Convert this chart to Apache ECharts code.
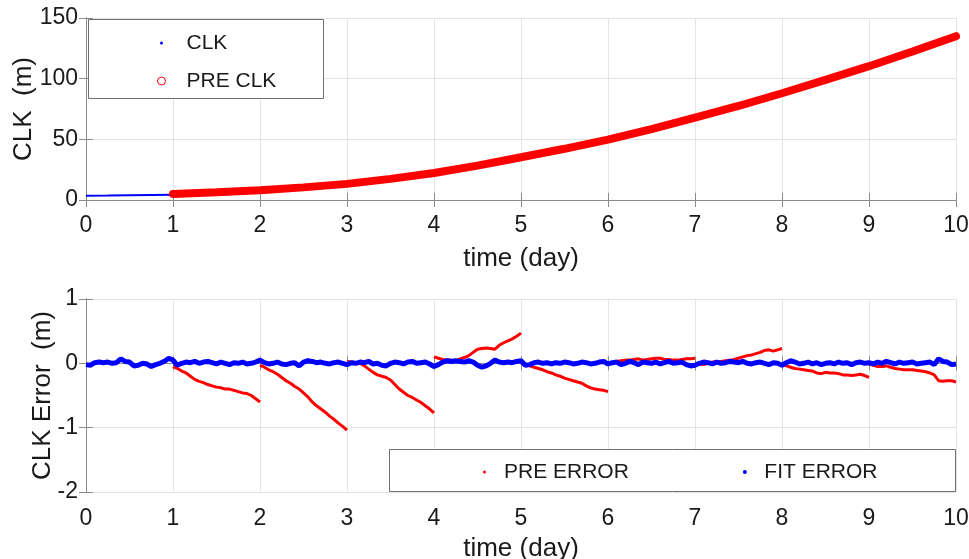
<!DOCTYPE html>
<html>
<head>
<meta charset="utf-8">
<script src="https://cdn.jsdelivr.net/npm/echarts@6/dist/echarts.min.js"></script>
<style>html,body{margin:0;padding:0;background:#fff}#c{width:969px;height:559px}</style>
</head>
<body>
<div id="c"></div>
<script>
// ---- data ----
var xTicks = [0,1,2,3,4,5,6,7,8,9,10];
var clkTimes = [0, 0.25, 0.5, 0.75, 1.0];
var clkValues = [3.6, 3.7, 3.9, 4.1, 4.3];
var preClkTimes = [1,1.5,2,2.5,3,3.5,4,4.5,5,5.5,6,6.5,7,7.5,8,8.5,9,9.5,10];
var preClkValues = [5.0,6.4,8.1,10.4,13.3,17.4,22.2,28.3,35.2,42.2,49.8,58.5,67.8,77.5,88.0,99.0,110.3,122.4,135.0];
var fitStep = 0.05;
var fitErr = [
 -0.02,-0.03,0.01,0.02,0.01,0.02,0.0,0.01,0.07,0.03,0.02,-0.04,-0.03,0.0,-0.01,-0.05,-0.02,0.0,0.03,0.08,
 0.05,-0.03,0.0,0.02,0.01,0.03,0.0,0.02,0.03,0.01,-0.01,0.02,0.0,-0.02,0.01,0.0,0.02,-0.01,0.0,0.02,
 0.05,0.01,-0.01,0.0,0.02,-0.01,-0.02,0.0,0.01,-0.04,0.02,0.04,0.03,0.01,0.02,0.0,-0.01,0.01,0.02,0.0,
 -0.02,0.01,0.0,0.02,0.01,0.03,-0.01,0.0,-0.03,-0.04,0.0,0.02,0.01,-0.01,0.02,0.03,0.0,0.01,0.02,-0.01,
 -0.05,-0.02,0.02,0.04,0.03,0.04,0.03,0.02,0.04,0.02,-0.03,-0.06,-0.04,0.0,0.05,0.02,0.01,0.02,0.01,0.03,
 0.04,-0.03,-0.02,0.01,0.02,0.0,0.01,-0.01,0.01,0.0,0.02,0.01,-0.01,0.0,0.02,0.01,-0.01,0.0,0.02,0.03,
 -0.01,0.01,0.02,-0.02,0.0,0.03,0.01,-0.02,0.02,0.01,0.0,0.02,-0.01,0.01,0.03,0.0,0.01,0.02,-0.02,-0.04,
 -0.03,0.0,0.02,0.01,-0.01,0.02,0.0,0.01,0.03,0.02,0.01,0.03,0.0,-0.01,0.01,0.02,0.0,-0.02,0.01,0.0,
 -0.03,0.01,0.04,0.02,-0.01,0.0,0.02,-0.01,0.01,-0.02,0.0,0.01,-0.01,0.02,0.0,0.01,-0.02,0.01,0.02,0.0,
 0.01,-0.01,0.02,0.0,0.03,0.01,-0.01,0.02,0.0,0.01,0.02,-0.01,0.0,0.01,0.02,-0.02,0.07,0.03,0.02,-0.02,
 -0.01
];
var preErrStep = 0.05;
var preErrStartDays = [1,2,3,4,5,6,7,8,9];
var preErrSeg1 = [-0.05,-0.08,-0.12,-0.15,-0.20,-0.25,-0.28,-0.30,-0.33,-0.35,-0.37,-0.38,-0.40,-0.40,-0.42,-0.44,-0.46,-0.47,-0.50,-0.55,-0.60];
var preErrSeg2 = [-0.03,-0.06,-0.10,-0.13,-0.17,-0.22,-0.27,-0.31,-0.36,-0.40,-0.46,-0.52,-0.60,-0.66,-0.71,-0.76,-0.82,-0.87,-0.93,-0.98,-1.04];
var preErrSeg3 = [0.03,0.02,0.01,0.0,-0.04,-0.09,-0.14,-0.18,-0.20,-0.22,-0.26,-0.33,-0.40,-0.45,-0.50,-0.53,-0.57,-0.61,-0.66,-0.71,-0.77];
var preErrSeg4 = [0.10,0.08,0.06,0.05,0.05,0.04,0.07,0.09,0.12,0.17,0.22,0.23,0.24,0.23,0.22,0.28,0.32,0.35,0.38,0.42,0.47];
var preErrSeg5 = [0.0,-0.02,-0.04,-0.06,-0.08,-0.10,-0.13,-0.15,-0.18,-0.20,-0.23,-0.25,-0.27,-0.29,-0.31,-0.35,-0.38,-0.40,-0.41,-0.42,-0.44];
var preErrSeg6 = [0.0,0.01,0.03,0.04,0.05,0.05,0.06,0.07,0.05,0.06,0.07,0.08,0.08,0.06,0.06,0.05,0.05,0.06,0.07,0.07,0.08];
var preErrSeg7 = [0.0,-0.01,-0.02,0.0,0.02,0.02,0.03,0.04,0.05,0.06,0.08,0.10,0.12,0.13,0.15,0.17,0.20,0.21,0.19,0.21,0.23];
var preErrSeg8 = [-0.02,-0.04,-0.06,-0.08,-0.09,-0.10,-0.11,-0.12,-0.15,-0.16,-0.14,-0.15,-0.15,-0.16,-0.18,-0.18,-0.19,-0.18,-0.17,-0.19,-0.22];
var preErrSeg9 = [-0.01,-0.03,-0.05,-0.05,-0.04,-0.06,-0.08,-0.09,-0.10,-0.10,-0.10,-0.11,-0.12,-0.13,-0.15,-0.18,-0.27,-0.28,-0.27,-0.27,-0.29];
var preErrSegs = [preErrSeg1,preErrSeg2,preErrSeg3,preErrSeg4,preErrSeg5,preErrSeg6,preErrSeg7,preErrSeg8,preErrSeg9];

// ---- build ----
function pairs(xs, ys){ return xs.map(function(x,i){ return [x, ys[i]]; }); }
function stepPairs(x0, step, ys){ return ys.map(function(y,i){ return [+(x0 + i*step).toFixed(3), y]; }); }

var FONT = 'Liberation Sans, Arial, sans-serif';
var FRAME = '#8a8a8a';
var GRIDC = '#e4e4e4';
var RED = '#ff0000', BLUE = '#0000ff';

function xAx(grid, pos, show, name, gap, margin){
  return {
    type:'value', gridIndex:grid, position:pos, min:0, max:10, interval:1,
    name: show ? name : '', nameLocation:'middle', nameGap:gap, nameMoveOverlap:false,
    nameTextStyle:{fontFamily:FONT, fontSize:26, color:'#1a1a1a'},
    axisLine:{show:true, lineStyle:{color:FRAME, width:1}},
    axisTick:{show:true, inside:true, length:7, lineStyle:{color:FRAME}},
    axisLabel:{show:show, margin:margin, fontFamily:FONT, fontSize:23, color:'#1a1a1a'},
    splitLine:{show:show, lineStyle:{color:GRIDC, width:1}}
  };
}
function yAx(grid, pos, show, min, max, interval, name, gap){
  return {
    type:'value', gridIndex:grid, position:pos, min:min, max:max, interval:interval,
    name: show ? name : '', nameLocation:'middle', nameGap:gap, nameMoveOverlap:false,
    nameTextStyle:{fontFamily:FONT, fontSize:26, color:'#1a1a1a'},
    axisLine:{show:true, lineStyle:{color:FRAME, width:1}},
    axisTick:{show:true, inside:true, length:7, lineStyle:{color:FRAME}},
    axisLabel:{show:show, margin:8, fontFamily:FONT, fontSize:23, color:'#1a1a1a'},
    splitLine:{show:show, lineStyle:{color:GRIDC, width:1}}
  };
}

var series = [
  {name:'CLK', type:'line', xAxisIndex:0, yAxisIndex:0, data:pairs(clkTimes, clkValues),
   showSymbol:false, lineStyle:{color:BLUE, width:2}, itemStyle:{color:BLUE}, z:3},
  {name:'PRE CLK', type:'line', xAxisIndex:0, yAxisIndex:0, data:pairs(preClkTimes, preClkValues),
   showSymbol:false, lineStyle:{color:RED, width:8, cap:'round'}, itemStyle:{color:RED}, z:4}
];
preErrSegs.forEach(function(seg, k){
  series.push({name:'PRE ERROR', type:'line', xAxisIndex:2, yAxisIndex:2,
    data:stepPairs(preErrStartDays[k], preErrStep, seg), showSymbol:false,
    lineStyle:{color:RED, width:3}, itemStyle:{color:RED}, z:3});
});
series.push({name:'FIT ERROR', type:'line', xAxisIndex:2, yAxisIndex:2,
  data:stepPairs(0, fitStep, fitErr), showSymbol:false,
  lineStyle:{color:BLUE, width:5}, itemStyle:{color:BLUE}, z:4});

var option = {
  animation:false,
  backgroundColor:'#fff',
  grid:[
    {left:86, top:18, width:870, height:182, containLabel:false, outerBoundsMode:'none'},
    {left:86, top:299, width:870, height:193, containLabel:false, outerBoundsMode:'none'}
  ],
  xAxis:[ xAx(0,'bottom',true,'time (day)',46,14), xAx(0,'top',false,'',0,0),
          xAx(1,'bottom',true,'time (day)',44,15), xAx(1,'top',false,'',0,0) ],
  yAxis:[ yAx(0,'left',true,0,150,50,'CLK  (m)',49), yAx(0,'right',false,0,150,50,'',0),
          yAx(1,'left',true,-2,1,1,'CLK Error  (m)',30), yAx(1,'right',false,-2,1,1,'',0) ],
  graphic:[
    {type:'rect', z:50, shape:{x:88.5, y:19.5, width:235, height:79}, style:{fill:'#fff', stroke:'#707070', lineWidth:1}},
    {type:'rect', z:50, shape:{x:389.5, y:449.5, width:566, height:42}, style:{fill:'#fff', stroke:'#707070', lineWidth:1}}
  ],
  legend:[
    {z:60, orient:'vertical', left:155, top:31, padding:0, itemWidth:8, itemHeight:8, itemGap:14,
     textStyle:{fontFamily:FONT, fontSize:21, color:'#1a1a1a', lineHeight:24, padding:[0,0,0,16]},
     data:[
       {name:'CLK', icon:'circle', itemStyle:{color:BLUE, borderColor:'#fff', borderWidth:5}},
       {name:'PRE CLK', icon:'circle', itemStyle:{color:'#fff', borderColor:RED, borderWidth:1}}
     ]},
    {z:60, orient:'horizontal', left:479, top:460, padding:0, itemWidth:7, itemHeight:7, itemGap:111,
     textStyle:{fontFamily:FONT, fontSize:21, color:'#1a1a1a', lineHeight:24, padding:[0,0,0,11]},
     data:[
       {name:'PRE ERROR', icon:'circle', itemStyle:{color:RED, borderColor:'#fff', borderWidth:4}},
       {name:'FIT ERROR', icon:'circle', itemStyle:{color:BLUE, borderColor:'#fff', borderWidth:3}}
     ]}
  ],
  series:series
};
var chart = echarts.init(document.getElementById('c'), null, {renderer:'canvas'});
chart.setOption(option);
</script>
</body>
</html>
